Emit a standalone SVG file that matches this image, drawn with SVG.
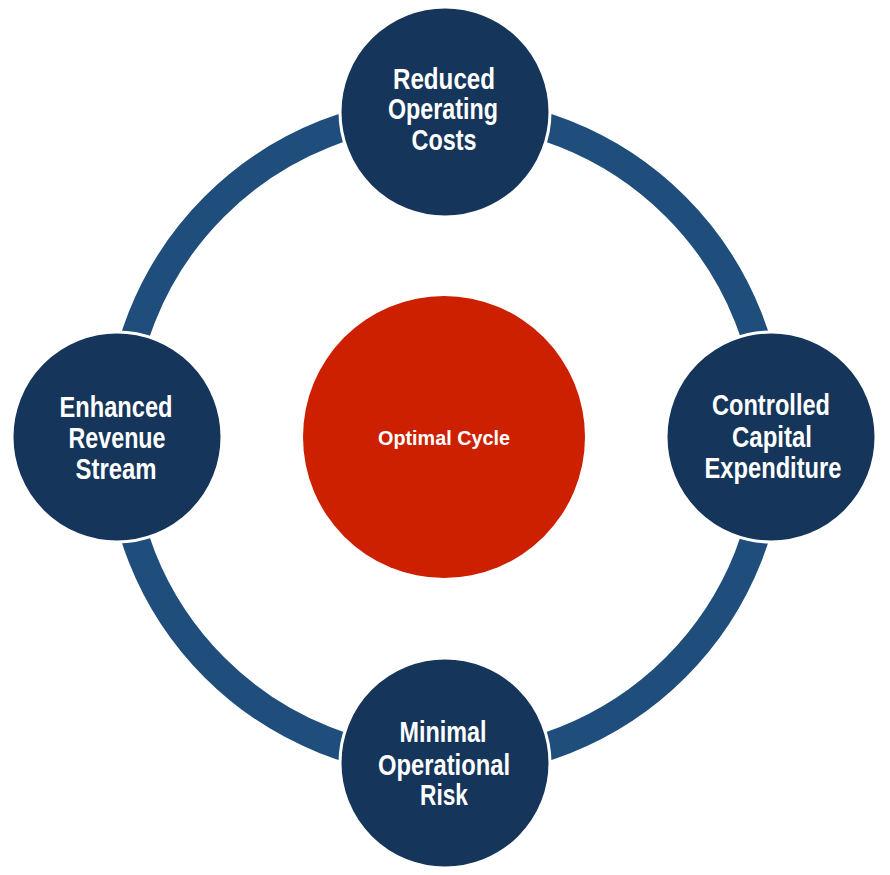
<svg xmlns="http://www.w3.org/2000/svg" width="890" height="875" viewBox="0 0 890 875">
<style>
.node{fill:#15355b;stroke:#ffffff;stroke-width:3}
.lbl{font-family:"Liberation Sans",Arial,sans-serif;font-weight:bold;font-size:29px;fill:#ffffff;text-anchor:middle}
.ctr{font-family:"Liberation Sans",Arial,sans-serif;font-weight:bold;font-size:20px;fill:#ffffff;text-anchor:middle}
</style>
<rect width="890" height="875" fill="#ffffff"/>
<g id="connectors">
<circle cx="445" cy="437" r="326" fill="none" stroke="#1f4d7c" stroke-width="28"/>
</g>
<g id="center">
<circle cx="444" cy="437" r="141" fill="#cc2000"/>
<text class="ctr" x="444" y="445" textLength="132" lengthAdjust="spacingAndGlyphs">Optimal Cycle</text>
</g>
<g id="top">
<circle class="node" cx="445" cy="112" r="105"/>
<text class="lbl" x="444" y="89" textLength="102" lengthAdjust="spacingAndGlyphs">Reduced</text>
<text class="lbl" x="443" y="119" textLength="110" lengthAdjust="spacingAndGlyphs">Operating</text>
<text class="lbl" x="444" y="150" textLength="65" lengthAdjust="spacingAndGlyphs">Costs</text>
</g>
<g id="left">
<circle class="node" cx="117" cy="437" r="105"/>
<text class="lbl" x="116" y="417" textLength="113" lengthAdjust="spacingAndGlyphs">Enhanced</text>
<text class="lbl" x="117" y="448" textLength="97" lengthAdjust="spacingAndGlyphs">Revenue</text>
<text class="lbl" x="116" y="479" textLength="81" lengthAdjust="spacingAndGlyphs">Stream</text>
</g>
<g id="right">
<circle class="node" cx="771" cy="437" r="105"/>
<text class="lbl" x="771" y="415" textLength="118" lengthAdjust="spacingAndGlyphs">Controlled</text>
<text class="lbl" x="772" y="447" textLength="80" lengthAdjust="spacingAndGlyphs">Capital</text>
<text class="lbl" x="773" y="478" textLength="137" lengthAdjust="spacingAndGlyphs">Expenditure</text>
</g>
<g id="bottom">
<circle class="node" cx="445" cy="763" r="105"/>
<text class="lbl" x="443" y="742" textLength="87" lengthAdjust="spacingAndGlyphs">Minimal</text>
<text class="lbl" x="444" y="775" textLength="132" lengthAdjust="spacingAndGlyphs">Operational</text>
<text class="lbl" x="444" y="805" textLength="48" lengthAdjust="spacingAndGlyphs">Risk</text>
</g>
</svg>
